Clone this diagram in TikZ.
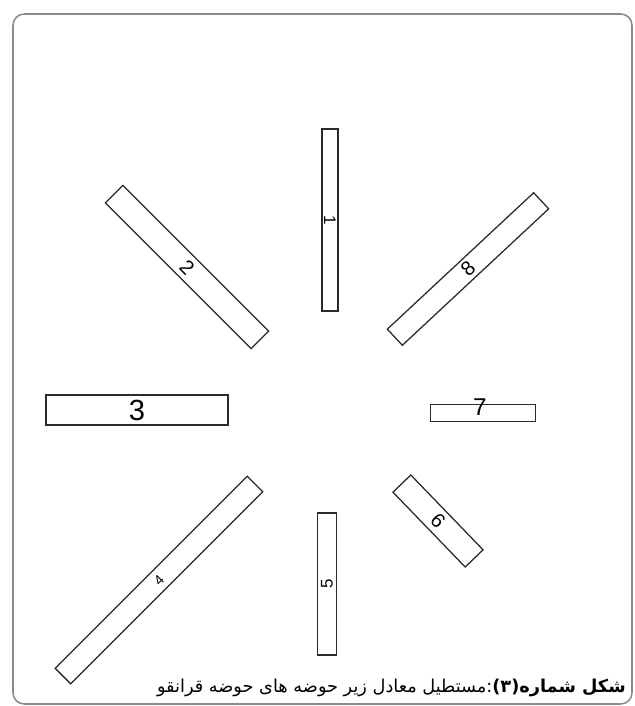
\documentclass[tikz,border=0pt]{standalone}
\usepackage{fontspec}
\setsansfont{Liberation Sans}
\newfontfamily\arabicfont[Script=Arabic]{DejaVu Sans}
\TeXXeTstate=1
\definecolor{cframe}{HTML}{8a8a8a}
\definecolor{cline}{HTML}{2a2a2a}

\begin{document}
\begin{tikzpicture}[x=0.025cm,y=-0.025cm]
  \useasboundingbox (0,0) rectangle (634,706);
  \draw[cframe,line width=1.1pt,rounded corners=8pt] (13,14) rectangle (632,704);
  \tikzset{basin/.style={draw=cline,line width=0.9pt,fill=white,inner sep=0pt,font=\sffamily}}
  % sub-basin rectangles
  \node[basin,minimum width=4.55cm,minimum height=0.40cm,rotate=-90,font=\sffamily\large] (b1) at (330,220) {1};
  \node[basin,minimum width=5.15cm,minimum height=0.62cm,rotate=-45,font=\sffamily\Large] (b2) at (187,267) {2};
  \node[basin,minimum width=4.55cm,minimum height=0.75cm,font=\sffamily\huge] (b3) at (137,410) {3};
  \node[basin,minimum width=6.79cm,minimum height=0.55cm,rotate=45,font=\sffamily\normalsize] (b4) at (159,580) {4};
  \node[basin,minimum width=3.55cm,minimum height=0.47cm,rotate=90,font=\sffamily\large] (b5) at (327,584) {5};
  \node[basin,minimum width=2.60cm,minimum height=0.62cm,rotate=-46,font=\sffamily\Large] (b6) at (438,521) {6};
  \node[basin,minimum width=2.62cm,minimum height=0.42cm] (b7) at (483,413) {};
  \node[inner sep=0pt,font=\sffamily\LARGE] (n7) at ([xshift=-0.08cm,yshift=0.14cm]b7.center) {7};
  \node[basin,minimum width=5.00cm,minimum height=0.55cm,rotate=43,font=\sffamily\Large] (b8) at (468,269) {8};
  % caption
  \node[anchor=east,inner sep=0pt,font=\arabicfont\fontsize{12.6}{15}\selectfont] (cap) at (626,688)
    {\beginR{\bfseries شکل شماره(۳)}:مستطیل معادل زیر حوضه های حوضه قرانقو\endR};
\end{tikzpicture}
\end{document}
